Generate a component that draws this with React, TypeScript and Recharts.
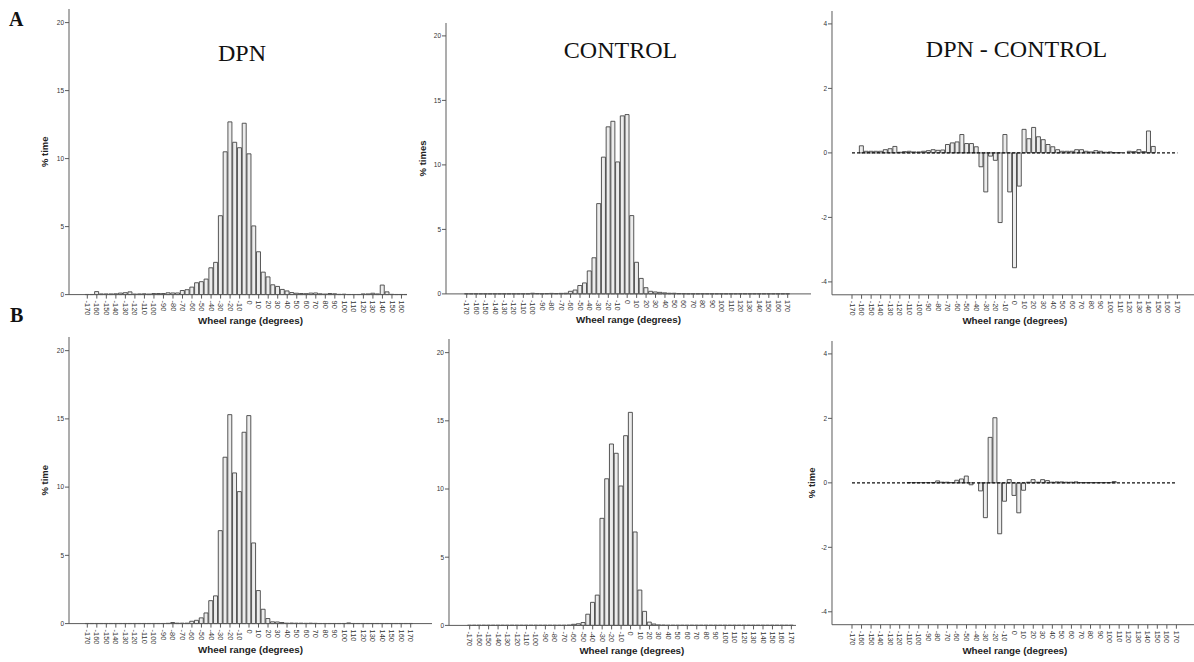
import React from "react";
import { Bar, BarChart, Label, ReferenceLine, XAxis, YAxis } from "recharts";

// wheel angle bins (5 degree steps), labels shown every 10 degrees
const degrees = [
  -170, -165, -160, -155, -150, -145, -140, -135, -130, -125, -120, -115, -110, -105, -100, -95, -90, -85, -80, -75,
  -70, -65, -60, -55, -50, -45, -40, -35, -30, -25, -20, -15, -10, -5, 0, 5, 10, 15, 20, 25, 30, 35, 40, 45, 50, 55,
  60, 65, 70, 75, 80, 85, 90, 95, 100, 105, 110, 115, 120, 125, 130, 135, 140, 145, 150, 155, 160, 165, 170,
];

// row A
const dpnA = [
  0.01, 0.01, 0.22, 0.05, 0.05, 0.05, 0.06, 0.11, 0.14, 0.2, 0.04, 0.05, 0.06, 0.04, 0.08, 0.08, 0.08, 0.13, 0.12, 0.12,
  0.3, 0.36, 0.55, 0.87, 0.95, 1.14, 1.97, 2.37, 5.8, 10.5, 12.7, 11.2, 10.8, 12.6, 10.35, 5.05, 3.15, 1.65, 1.3, 0.72,
  0.6, 0.38, 0.27, 0.15, 0.1, 0.08, 0.07, 0.11, 0.12, 0.06, 0.04, 0.08, 0.06, 0.02, 0.03, 0.01, 0.01, 0.01, 0.05, 0.05,
  0.1, 0.05, 0.7, 0.2, 0.02, 0.01, 0.01, 0.01, 0.01,
];
const controlA = [
  0.01, 0.01, 0.01, 0.01, 0.01, 0.01, 0.01, 0.01, 0.01, 0.01, 0.01, 0.01, 0.01, 0.01, 0.05, 0.03, 0.01, 0.03, 0.04, 0.03,
  0.04, 0.05, 0.2, 0.3, 0.65, 0.85, 1.78, 2.8, 7.0, 10.6, 12.95, 13.38, 10.23, 13.8, 13.9, 6.07, 2.45, 1.2, 0.48, 0.2,
  0.15, 0.12, 0.08, 0.05, 0.05, 0.03, 0.02, 0.01, 0.01, 0.01, 0.01, 0.01, 0.01, 0.01, 0.01, 0.01, 0.01, 0.01, 0.01, 0.01,
  0.01, 0.01, 0.01, 0.01, 0.01, 0.01, 0.01, 0.01, 0.01,
];
const diffA = [
  0, 0, 0.22, 0.05, 0.05, 0.05, 0.05, 0.1, 0.13, 0.2, 0.02, 0.04, 0.05, 0.03, 0.03, 0.05, 0.07, 0.1, 0.08, 0.09,
  0.26, 0.31, 0.34, 0.57, 0.29, 0.29, 0.19, -0.43, -1.21, -0.1, -0.23, -2.16, 0.57, -1.21, -3.56, -1.03, 0.73, 0.44, 0.79, 0.5,
  0.41, 0.26, 0.19, 0.1, 0.05, 0.05, 0.05, 0.1, 0.1, 0.05, 0.03, 0.07, 0.05, 0.02, 0.03, 0.01, 0.01, 0, 0.05, 0.04,
  0.1, 0.04, 0.68, 0.2, 0, 0, 0, 0, 0,
];

// row B
const dpnB = [
  0.01, 0.01, 0.01, 0.01, 0.01, 0.01, 0.01, 0.01, 0.01, 0.01, 0.01, 0.01, 0.01, 0.01, 0.01, 0.01, 0.01, 0.02, 0.08, 0.03,
  0.03, 0.03, 0.17, 0.24, 0.42, 0.78, 1.68, 2.03, 6.81, 12.19, 15.31, 11.04, 9.67, 14.02, 15.24, 5.91, 2.42, 1.05, 0.37, 0.13,
  0.12, 0.08, 0.03, 0.04, 0.03, 0.03, 0.02, 0.03, 0.02, 0.01, 0.01, 0.01, 0.01, 0.01, 0.01, 0.05, 0.01, 0.01, 0.01, 0.01,
  0.01, 0.01, 0.01, 0.01, 0.01, 0.01, 0.01, 0.01, 0.01,
];
const controlB = [
  0.01, 0.01, 0.01, 0.01, 0.01, 0.01, 0.01, 0.01, 0.01, 0.01, 0.01, 0.01, 0.01, 0.01, 0.01, 0.01, 0.01, 0.01, 0.01, 0.01,
  0.01, 0.02, 0.08, 0.12, 0.21, 0.82, 1.69, 2.22, 7.85, 10.75, 13.3, 12.62, 10.22, 13.91, 15.62, 6.85, 2.59, 1.03, 0.24, 0.1,
  0.03, 0.02, 0.01, 0.01, 0.01, 0.01, 0.01, 0.01, 0.01, 0.01, 0.01, 0.01, 0.01, 0.01, 0.01, 0.01, 0.01, 0.01, 0.01, 0.01,
  0.01, 0.01, 0.01, 0.01, 0.01, 0.01, 0.01, 0.01, 0.01,
];
const diffB = [
  0, 0, 0, 0, 0, 0, 0, 0, 0, 0, 0, 0, 0.01, 0.01, 0.01, 0.01, 0.01, 0.01, 0.06, 0.02,
  0.02, 0.01, 0.08, 0.12, 0.21, -0.06, 0, -0.25, -1.08, 1.41, 2.02, -1.58, -0.57, 0.1, -0.39, -0.93, -0.23, 0.02, 0.1, 0.02,
  0.1, 0.07, 0.02, 0.03, 0.03, 0.02, 0.02, 0.03, 0.01, 0.01, 0.01, 0.01, 0.01, 0.01, 0.01, 0.04, 0, 0, 0, 0,
  0, 0, 0, 0, 0, 0, 0, 0, 0,
];

const pctTicks = [0, 5, 10, 15, 20];
const diffTicks = [-4, -2, 0, 2, 4];

const sans = "'Liberation Sans', Arial, sans-serif";
const serif = "'Liberation Serif', 'Times New Roman', serif";
const AXIS = "#5a5a5a";
const YW = 60;
const XH = 36;
const MT = 4;

function XTick(props: any) {
  const { x, y, payload, maxLabel } = props;
  // the first DPN panel is cut off on the right, its last label is hidden
  if (maxLabel !== undefined && payload.value > maxLabel) return null;
  return (
    <g transform={`translate(${x},${y})`}>
      <text transform="rotate(90)" x={1} y={0} dy="0.33em" textAnchor="start" fontSize={7.4} fill="#333" fontFamily={sans}>
        {payload.value}
      </text>
    </g>
  );
}

type PanelProps = {
  values: number[];
  axisX: number;
  axisTop: number;
  axisY: number;
  axisEnd: number;
  firstTick: number;
  lastTick: number;
  domain: [number, number];
  yTicks: number[];
  yLabel?: string;
  yLabelOffset?: number;
  clipRight?: number;
  maxLabel?: number;
  zeroLine?: boolean;
};

function Panel(p: PanelProps) {
  const band = (p.lastTick - p.firstTick) / (degrees.length - 1);
  const plotW = p.axisEnd - p.axisX;
  const padL = p.firstTick - band / 2 - p.axisX;
  const padR = plotW - padL - band * degrees.length;
  const plotH = p.axisY - p.axisTop;
  const left = p.axisX - YW;
  const top = p.axisTop - MT;
  const width = YW + plotW;
  const height = MT + plotH + XH;
  const data = degrees.map((d, i) => ({ deg: d, pct: p.values[i] }));

  return (
    <div
      style={{
        position: "absolute",
        left,
        top,
        width: p.clipRight ? p.clipRight - left : width,
        height,
        overflow: "hidden",
      }}
    >
      <BarChart
        width={width}
        height={height}
        data={data}
        margin={{ top: MT, right: 0, bottom: 0, left: 0 }}
        barCategoryGap="4%"
      >
        <XAxis
          dataKey="deg"
          interval={1}
          height={XH}
          padding={{ left: padL, right: padR }}
          tick={<XTick maxLabel={p.maxLabel} />}
          tickSize={4}
          tickMargin={1}
          axisLine={{ stroke: AXIS }}
          tickLine={{ stroke: AXIS }}
        >
          <Label
            value="Wheel range (degrees)"
            position="insideBottom"
            offset={7}
            fontSize={9.8}
            fontWeight={700}
            fontFamily={sans}
            fill="#222"
          />
        </XAxis>
        <YAxis
          type="number"
          domain={p.domain}
          ticks={p.yTicks}
          width={YW}
          tickSize={4}
          tickMargin={1}
          tick={{ fontSize: 6.5, fill: "#333", fontFamily: sans }}
          axisLine={{ stroke: AXIS }}
          tickLine={{ stroke: AXIS }}
        >
          {p.yLabel && (
            <Label
              value={p.yLabel}
              angle={-90}
              position="insideLeft"
              offset={p.yLabelOffset ?? 36}
              style={{ textAnchor: "middle" }}
              fontSize={9.5}
              fontWeight={700}
              fontFamily={sans}
              fill="#222"
            />
          )}
        </YAxis>
        <Bar dataKey="pct" fill="#ececec" stroke="#444" strokeWidth={0.9} isAnimationActive={false} />
        {p.zeroLine && (
          <ReferenceLine
            segment={[
              { x: degrees[0], y: 0 },
              { x: degrees[degrees.length - 1], y: 0 },
            ]}
            stroke="#111"
            strokeWidth={1.2}
            strokeDasharray="3 2"
          />
        )}
      </BarChart>
    </div>
  );
}

export default function App() {
  return (
    <div
      style={{
        position: "absolute",
        left: 0,
        top: 0,
        width: 1194,
        height: 662,
        overflow: "hidden",
        background: "#fff",
      }}
    >
      <Panel values={dpnA} axisX={69} axisTop={9.1} axisY={294.7} axisEnd={432} firstTick={87.3} lastTick={411}
        domain={[0, 21]} yTicks={pctTicks} yLabel="% time" clipRight={406.5} maxLabel={160} />
      <Panel values={controlA} axisX={446} axisTop={23.1} axisY={294} axisEnd={811} firstTick={466.7} lastTick={787.7}
        domain={[0, 21]} yTicks={pctTicks} yLabel="% times" yLabelOffset={37} />
      <Panel values={diffA} axisX={832.3} axisTop={11.1} axisY={294.9} axisEnd={1198} firstTick={852.3} lastTick={1177.7}
        domain={[-4.4, 4.4]} yTicks={diffTicks} zeroLine />

      <Panel values={dpnB} axisX={69} axisTop={337.4} axisY={624} axisEnd={432} firstTick={87.3} lastTick={410.7}
        domain={[0, 21]} yTicks={pctTicks} yLabel="% time" />
      <Panel values={controlB} axisX={449.3} axisTop={338.9} axisY={625.3} axisEnd={815} firstTick={470} lastTick={791.7}
        domain={[0, 21]} yTicks={pctTicks} clipRight={796} />
      <Panel values={diffB} axisX={832.3} axisTop={341.3} axisY={625} axisEnd={1198} firstTick={852.3} lastTick={1176.7}
        domain={[-4.4, 4.4]} yTicks={diffTicks} yLabel="% time" yLabelOffset={39.4} zeroLine />

      <svg width={1194} height={662} style={{ position: "absolute", left: 0, top: 0, pointerEvents: "none" }}>
        <text x={9} y={26} fontFamily={serif} fontWeight={700} fontSize={20} fill="#111">A</text>
        <text x={10} y={322} fontFamily={serif} fontWeight={700} fontSize={20} fill="#111">B</text>
        <text x={242} y={61} textAnchor="middle" fontFamily={serif} fontSize={24} fill="#111">DPN</text>
        <text x={620.5} y={58} textAnchor="middle" fontFamily={serif} fontSize={24} fill="#111">CONTROL</text>
        <text x={1016.5} y={57} textAnchor="middle" fontFamily={serif} fontSize={24} fill="#111">DPN - CONTROL</text>
      </svg>
    </div>
  );
}
